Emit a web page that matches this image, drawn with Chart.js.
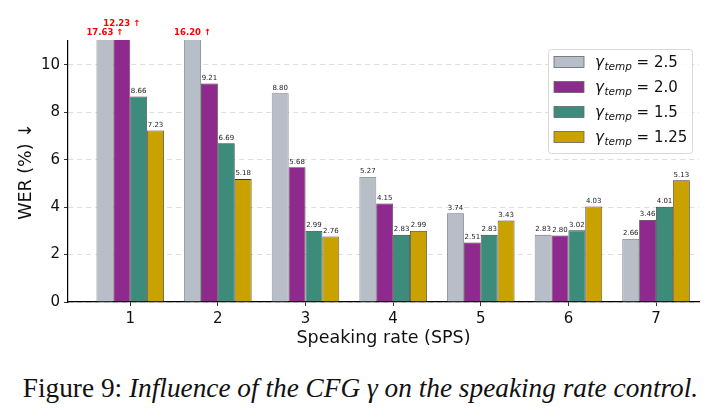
<!DOCTYPE html>
<html>
<head>
<meta charset="utf-8">
<script src="https://cdn.jsdelivr.net/npm/chart.js@4"></script>
<style>
  body { margin: 0; background: #fff; }
  #wrap { position: relative; width: 721px; height: 350px; }
  #caption {
    position: absolute; top: 373px; left: 0; width: 721px; text-align: center;
    font-family: "Liberation Serif", "Times New Roman", serif; font-size: 27.3px; color: #111;
    white-space: nowrap;
  }
  #caption i { font-style: italic; }
</style>
</head>
<body>
<div id="wrap"><canvas id="chart" width="721" height="350"></canvas></div>
<div id="caption">Figure 9: <i>Influence of the CFG γ on the speaking rate control.</i></div>
<script>
// speaking rates (SPS)
const rates = [1, 2, 3, 4, 5, 6, 7];
const gammaLabels = ['2.5', '2.0', '1.5', '1.25'];
const yTicks = [0, 2, 4, 6, 8, 10];

// WER (%) per gamma_temp
const wer_25 = [17.63, 16.20, 8.80, 5.27, 3.74, 2.83, 2.66];
const wer_20 = [12.23, 9.21, 5.68, 4.15, 2.51, 2.80, 3.46];
const wer_15 = [8.66, 6.69, 2.99, 2.83, 2.83, 3.02, 4.01];
const wer_125 = [7.23, 5.18, 2.76, 2.99, 3.43, 4.03, 5.13];

const yMax = 11;
const colors = ['#b8bec8', '#8e2a8e', '#3d8b7a', '#c9a200'];
const series = [wer_25, wer_20, wer_15, wer_125];

const datasets = series.map((vals, i) => ({
  label: gammaLabels[i],
  data: vals.map((v, j) => ({ x: rates[j], y: v })),
  backgroundColor: colors[i],
  borderColor: i === 0 ? '#6f747a' : '#3a3a3a',
  borderWidth: 0.8,
  categoryPercentage: 0.77,
  barPercentage: 1.0,
  clip: 1
}));

// value labels above bars, red with arrow when cut off
const valueLabels = {
  id: 'valueLabels',
  afterDatasetsDraw(chart) {
    const ctx = chart.ctx;
    const top = chart.chartArea.top;
    const clippedCount = {};
    ctx.save();
    ctx.textAlign = 'center';
    ctx.textBaseline = 'bottom';
    chart.data.datasets.forEach((ds, di) => {
      const meta = chart.getDatasetMeta(di);
      meta.data.forEach((bar, j) => {
        const v = ds.data[j].y;
        if (v > yMax) {
          const n = clippedCount[j] || 0;
          clippedCount[j] = n + 1;
          ctx.fillStyle = '#ff0000';
          ctx.font = 'bold 8.5px "DejaVu Sans"';
          ctx.fillText(v.toFixed(2) + ' \u2191', bar.x, top - 4 - n * 9);
        } else {
          ctx.fillStyle = '#222';
          ctx.font = '7px "DejaVu Sans"';
          ctx.fillText(v.toFixed(2), bar.x, bar.y - 2);
        }
      });
    });
    ctx.restore();
  }
};

// legend with gamma_temp subscript
const mathLegend = {
  id: 'mathLegend',
  afterDraw(chart) {
    const ctx = chart.ctx;
    const bx = 548, by = 49, bw = 144, bh = 104;
    ctx.save();
    ctx.fillStyle = 'rgba(255,255,255,0.85)';
    ctx.strokeStyle = '#d8d8d8';
    ctx.lineWidth = 1;
    ctx.beginPath();
    ctx.roundRect(bx + 0.5, by + 0.5, bw, bh, 3);
    ctx.fill();
    ctx.stroke();
    gammaLabels.forEach((g, i) => {
      const cy = 62 + i * 25;
      ctx.fillStyle = colors[i];
      ctx.fillRect(554, cy - 5.5, 30, 11);
      ctx.strokeStyle = '#666';
      ctx.lineWidth = 0.8;
      ctx.strokeRect(554, cy - 5.5, 30, 11);
      ctx.fillStyle = '#111';
      ctx.textBaseline = 'alphabetic';
      ctx.textAlign = 'left';
      let x = 595;
      ctx.font = 'italic 15px "DejaVu Sans"';
      ctx.fillText('\u03b3', x, cy + 5);
      x += ctx.measureText('\u03b3').width + 0.5;
      ctx.font = 'italic 10.5px "DejaVu Sans"';
      ctx.fillText('temp', x, cy + 8);
      x += ctx.measureText('temp').width;
      ctx.font = '15px "DejaVu Sans"';
      ctx.fillText(' = ' + g, x, cy + 5);
    });
    ctx.restore();
  }
};

new Chart(document.getElementById('chart'), {
  type: 'bar',
  data: { datasets: datasets },
  options: {
    responsive: false,
    animation: false,
    layout: { padding: { top: 41, right: 22, left: 0, bottom: 0 } },
    plugins: { legend: { display: false }, tooltip: { enabled: false } },
    scales: {
      x: {
        type: 'linear',
        offset: false,
        min: 0.29,
        max: 7.49,
        afterBuildTicks: scale => { scale.ticks = rates.map(v => ({ value: v })); },
        afterFit: scale => { scale.height = 48; },
        grid: { offset: false, drawOnChartArea: false, drawTicks: true, tickLength: 4, tickColor: '#333' },
        border: { display: true, color: '#000', width: 1.2 },
        ticks: { color: '#111', font: { family: 'DejaVu Sans', size: 15 }, padding: 4, maxRotation: 0 },
        title: { display: true, text: 'Speaking rate (SPS)', color: '#111', font: { family: 'DejaVu Sans', size: 17.5 }, padding: { top: 0, bottom: 1 } }
      },
      y: {
        min: 0,
        max: yMax,
        afterBuildTicks: scale => { scale.ticks = yTicks.map(v => ({ value: v })); },
        afterFit: scale => { scale.width = 68; },
        grid: { color: '#d6d6d6', lineWidth: 0.8, tickColor: '#000', tickLength: 4 },
        border: { display: true, color: '#000', width: 1.2, dash: [5, 4] },
        ticks: { color: '#111', font: { family: 'DejaVu Sans', size: 15 }, padding: 4 },
        title: { display: true, text: 'WER (%) \u2193', color: '#111', font: { family: 'DejaVu Sans', size: 17.5 }, padding: { top: 16, bottom: 0 } }
      }
    }
  },
  plugins: [valueLabels, mathLegend]
});
</script>
</body>
</html>
